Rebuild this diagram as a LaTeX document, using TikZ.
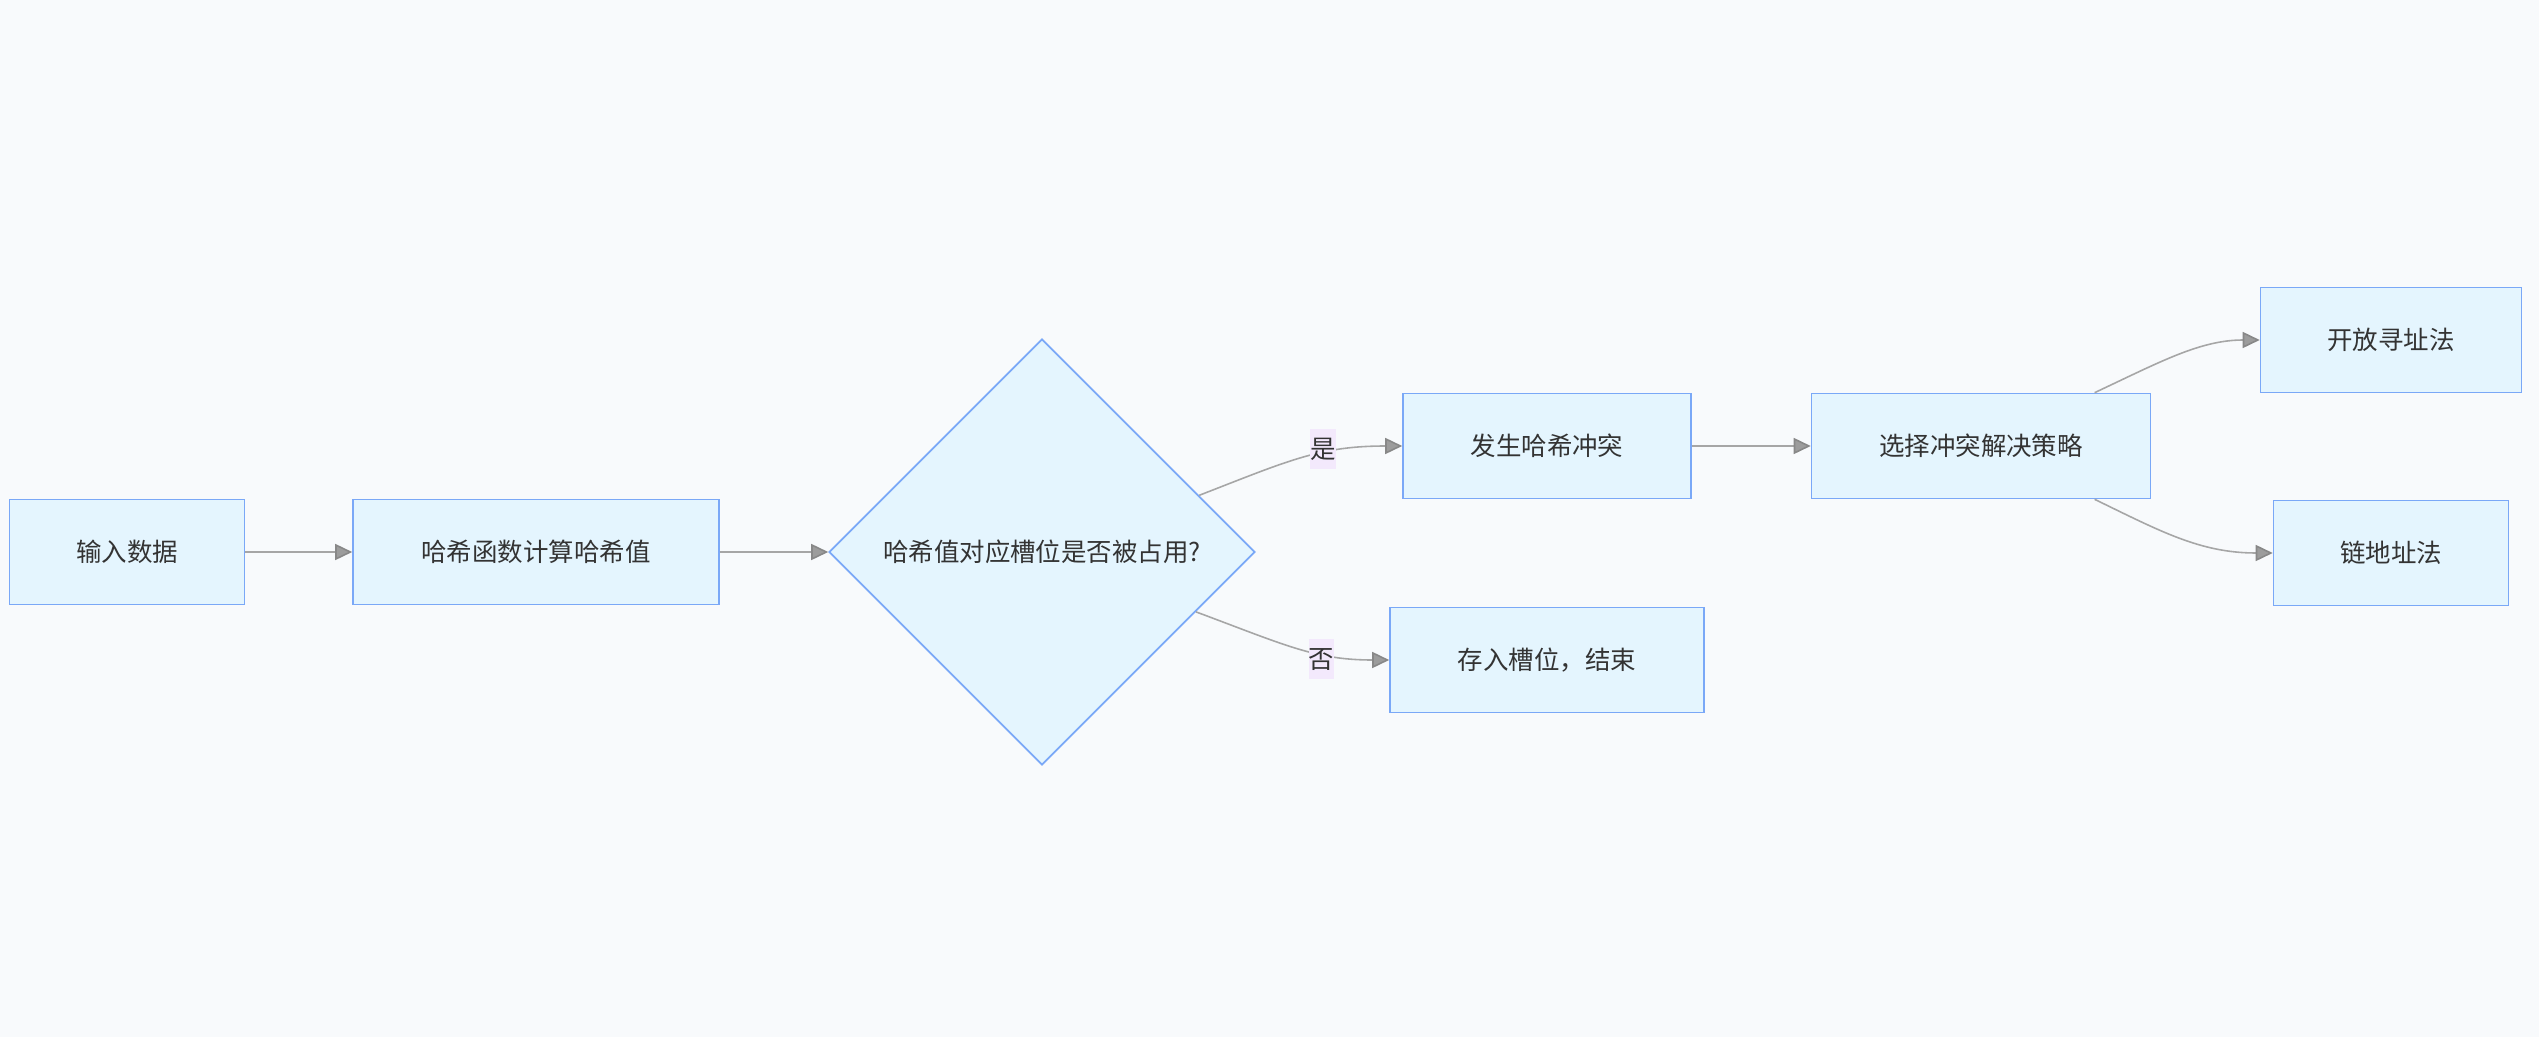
\documentclass[tikz,border=0pt]{standalone}
\usepackage{fontspec}
\setmainfont{Noto Sans CJK SC}
\usetikzlibrary{shapes.geometric, arrows.meta, calc}
\definecolor{page-bg}{HTML}{F8FAFC}
\definecolor{box-fill}{HTML}{E4F5FE}
\definecolor{box-line}{HTML}{7AA8F7}
\definecolor{edge-gray}{HTML}{A6A6A6}
\definecolor{arrow-gray}{HTML}{9C9C9C}
\definecolor{arrow-edge}{HTML}{888888}
\definecolor{label-bg}{HTML}{F3E9FC}
\definecolor{ink}{HTML}{333333}

\begin{document}
\begin{tikzpicture}[x=0.02cm, y=-0.02cm,
      every node/.style={font=\fontsize{14.5pt}{17pt}\selectfont, text=ink},
      box/.style={draw=box-line, fill=box-fill, line width=0.95pt,
                  minimum height=2.1cm, inner sep=0pt},
      decision/.style={diamond, draw=box-line, fill=box-fill, line width=0.95pt,
                  minimum width=8.52cm, minimum height=8.52cm, inner sep=0pt},
      edge/.style={draw=edge-gray, line width=0.9pt,
                  -{Triangle[length=0.34cm, width=0.32cm, color=arrow-edge, fill=arrow-gray]}},
      elabel/.style={fill=label-bg, inner xsep=0pt, inner ysep=0pt,
                  minimum height=0.8cm}]
    \fill[page-bg] (0,0) rectangle (2539,1037);
    % main row
    \node[box, minimum width=4.7cm] (input) at (127,552) {输入数据};
    \node[box, minimum width=7.32cm] (hash) at (536,552) {哈希函数计算哈希值};
    \node[decision] (occupied) at (1042,552) {哈希值对应槽位是否被占用?};
    % branches
    \node[box, minimum width=5.76cm] (clash) at (1547,446) {发生哈希冲突};
    \node[box, minimum width=6.28cm] (store) at (1547,660) {存入槽位，结束};
    \node[box, minimum width=6.78cm] (choose) at (1981,446) {选择冲突解决策略};
    \node[box, minimum width=5.22cm] (probe) at (2391,340) {开放寻址法};
    \node[box, minimum width=4.7cm] (chain) at (2391,553) {链地址法};
    \coordinate (yes-out) at ($(occupied.north)!0.735!(occupied.east)$);
    \coordinate (no-out) at ($(occupied.south)!0.72!(occupied.east)$);
    \coordinate (up-out) at ($(choose.north)!0.667!(choose.north east)$);
    \coordinate (down-out) at ($(choose.south)!0.667!(choose.south east)$);
    \draw[edge] (input.east) -- (hash.west);
    \draw[edge] (hash.east) -- (occupied.west);
    \draw[edge] (yes-out) .. controls (1290,460) and (1320,446) .. (clash.west)
      node[elabel, pos=0.61, yshift=2pt] {是};
    \draw[edge] (no-out) .. controls (1285,645) and (1315,660) .. (store.west)
      node[elabel, pos=0.64, yshift=-3pt] {否};
    \draw[edge] (clash.east) -- (choose.west);
    \draw[edge] (up-out) .. controls (2160,362) and (2200,340) .. (probe.west);
    \draw[edge] (down-out) .. controls (2160,531) and (2200,553) .. (chain.west);
  \end{tikzpicture}
\end{document}
